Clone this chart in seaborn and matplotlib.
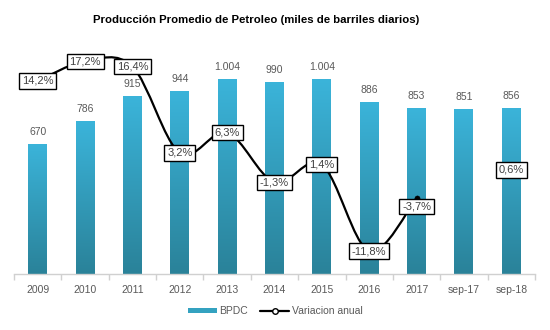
import numpy as np
import pandas as pd
import matplotlib
matplotlib.use("Agg")
import matplotlib.pyplot as plt
import seaborn as sns
from matplotlib.path import Path
from matplotlib.patches import PathPatch, Patch
from matplotlib.lines import Line2D
from matplotlib.colors import LinearSegmentedColormap
from matplotlib import font_manager

# Production and yearly change data
periods = ["2009", "2010", "2011", "2012", "2013", "2014", "2015", "2016", "2017", "sep-17", "sep-18"]
bpdc = [670, 786, 915, 944, 1004, 990, 1004, 886, 853, 851, 856]
bpdc_labels = ["670", "786", "915", "944", "1.004", "990", "1.004", "886", "853", "851", "856"]
variation = [14.2, 17.2, 16.4, 3.2, 6.3, -1.3, 1.4, -11.8, -3.7, np.nan, 0.6]
variation_labels = ["14,2%", "17,2%", "16,4%", "3,2%", "6,3%", "-1,3%", "1,4%", "-11,8%", "-3,7%", "", "0,6%"]

sns.set_theme(style="white")
names = {f.name for f in font_manager.fontManager.ttflist}
narrow = "Liberation Sans Narrow" if "Liberation Sans Narrow" in names else "Liberation Sans"
plt.rcParams["font.family"] = [narrow, "DejaVu Sans"]

df = pd.DataFrame({"period": periods, "bpdc": bpdc})

fig = plt.figure(figsize=(5.5, 3.3), dpi=100)
ax = fig.add_axes([14 / 550, 1 - 274 / 330, 521 / 550, 233 / 330])

sns.barplot(data=df, x="period", y="bpdc", color="#34A2C0", width=0.4, ax=ax,
            saturation=1, zorder=2)

# vertical gradient fill on each bar
cmap = LinearSegmentedColormap.from_list("bar", ["#2A8299", "#3BB4DA"])
grad = np.linspace(0, 1, 256).reshape(-1, 1)
for p in ax.patches:
    x0, y0 = p.get_x(), p.get_y()
    w, h = p.get_width(), p.get_height()
    im = ax.imshow(grad, cmap=cmap, origin="lower", aspect="auto",
                   extent=[x0, x0 + w, y0, y0 + h], zorder=2)
    im.set_clip_path(p)
    p.set_facecolor("none")
    p.set_edgecolor("none")
ax.set_xlim(-0.5, len(periods) - 0.5)
ax.set_ylim(0, 1200)

# value labels above bars
for i, (v, lab) in enumerate(zip(bpdc, bpdc_labels)):
    ax.annotate(lab, (i, v), xytext=(0, 5), textcoords="offset points",
                ha="center", va="bottom", fontsize=7.5, color="#595959")

# axes styling
for s in ["top", "left", "right"]:
    ax.spines[s].set_visible(False)
ax.spines["bottom"].set_color("#D0D0D0")
ax.spines["bottom"].set_linewidth(1)
ax.set_yticks([])
ax.set_xlabel("")
ax.set_ylabel("")
ax.set_xticks(np.arange(len(periods)))
ax.set_xticklabels(periods, fontsize=7.5, color="#595959")
ax.tick_params(axis="x", which="major", length=0, pad=8)
ax.set_xticks(np.arange(-0.5, len(periods)), minor=True)
ax.tick_params(axis="x", which="minor", length=4, width=1, color="#D0D0D0", bottom=True)

# yearly change on secondary axis
ax2 = ax.twinx()
ax2.set_ylim(-15.3, 20.3)
ax2.set_yticks([])
for s in ax2.spines.values():
    s.set_visible(False)

xs = np.arange(len(periods), dtype=float)
vals = np.array(variation)
ok = ~np.isnan(vals)
# smooth cubic Bezier path through the contiguous run of values
run = np.arange(0, 9)
pts = np.column_stack([xs[run], vals[run]])
verts = [tuple(pts[0])]
codes = [Path.MOVETO]
n = len(pts)
for i in range(n - 1):
    p0 = pts[i - 1] if i > 0 else pts[i]
    p1, p2 = pts[i], pts[i + 1]
    p3 = pts[i + 2] if i + 2 < n else pts[i + 1]
    c1 = p1 + (p2 - p0) / 6.0
    c2 = p2 - (p3 - p1) / 6.0
    verts += [tuple(c1), tuple(c2), tuple(p2)]
    codes += [Path.CURVE4] * 3
ax2.add_patch(PathPatch(Path(verts, codes), facecolor="none", edgecolor="black",
                        lw=1.6, zorder=3))
sns.scatterplot(x=xs[run], y=vals[run], color="black", s=14, ax=ax2, zorder=4,
                legend=False, edgecolor="black")

offsets = {8: -1.3}
for i in np.where(ok)[0]:
    ax2.text(xs[i], vals[i] + offsets.get(i, 0), variation_labels[i], ha="center", va="center",
             fontsize=8, color="#404040", zorder=5,
             bbox=dict(boxstyle="square,pad=0.25", fc="white", ec="black", lw=1))

fig.text(0.466, 0.94, "Producción Promedio de Petroleo (miles de barriles diarios)",
         ha="center", va="center", fontsize=8.2, fontweight="bold", color="black")

handles = [Patch(facecolor="#34A2C0", edgecolor="none"),
           Line2D([0], [0], color="black", lw=1.6, marker="o", markersize=4,
                  markerfacecolor="white", markeredgecolor="black")]
fig.legend(handles, ["BPDC", "Variacion anual"], loc="center", bbox_to_anchor=(0.5, 0.057),
           ncol=2, frameon=False, fontsize=7.5, labelcolor="#595959", handlelength=2.8,
           handletextpad=0.2, columnspacing=1.2, handleheight=0.5)

fig.savefig("out.png", dpi=100)
